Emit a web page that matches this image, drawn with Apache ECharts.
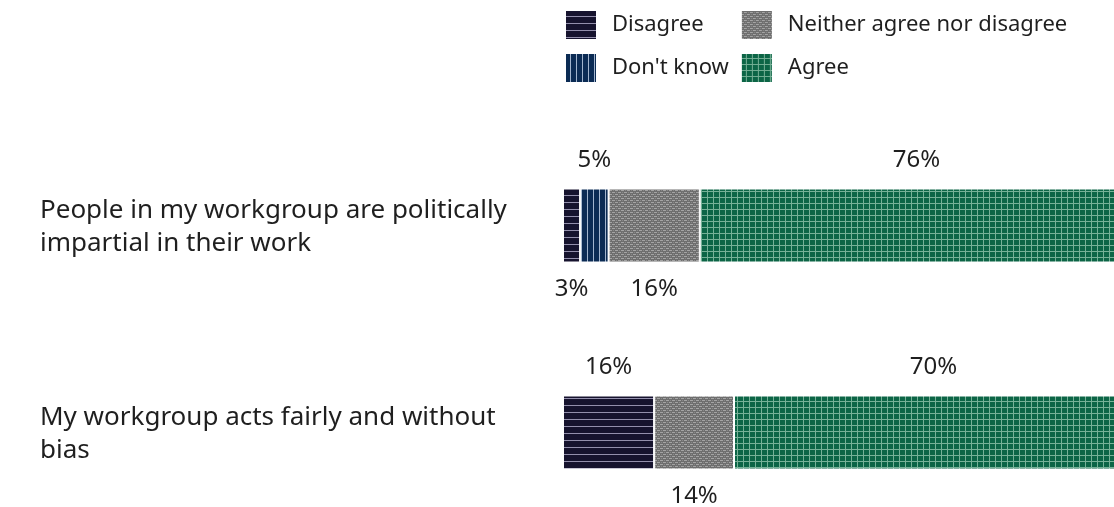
<!DOCTYPE html>
<html>
<head>
<meta charset="utf-8">
<script src="https://cdn.jsdelivr.net/npm/echarts@6/dist/echarts.min.js"></script>
<style>
  html, body { margin: 0; padding: 0; background: #fff; }
  #main { width: 1114px; height: 507px; }
</style>
</head>
<body>
<div id="main"></div>
<script>
// data
let categories = [
    'People in my workgroup are politically\nimpartial in their work',
    'My workgroup acts fairly and without\nbias'
];
let seriesNames = ['Disagree', "Don't know", 'Neither agree nor disagree', 'Agree'];
let disagree = [3, 16];
let dontKnow = [5, 0];
let neither = [16, 14];
let agree = [76, 70];

function tile(w, h, draw){
    let c = document.createElement('canvas');
    c.width = w;
    c.height = h;
    draw(c.getContext('2d'));
    return {image: c, repeat: 'repeat'};
}

let fills = [
    tile(6, 7, g => {
        g.fillStyle = '#16132e'; g.fillRect(0, 0, 6, 7);
        g.fillStyle = 'rgba(190,185,215,0.75)'; g.fillRect(0, 6, 6, 1);
    }),
    tile(6, 6, g => {
        g.fillStyle = '#0b2b54'; g.fillRect(0, 0, 6, 6);
        g.fillStyle = 'rgba(200,215,235,0.8)'; g.fillRect(5, 0, 1, 6);
    }),
    tile(6, 4, g => {
        g.fillStyle = '#6e6e6e'; g.fillRect(0, 0, 6, 4);
        g.fillStyle = '#a4a4a4';
        g.fillRect(0, 0, 3, 1); g.fillRect(3, 2, 3, 1);
        g.fillStyle = '#8a8a8a';
        g.fillRect(4, 0, 1, 1); g.fillRect(1, 2, 1, 1);
    }),
    tile(6, 6, g => {
        g.fillStyle = '#0c6546'; g.fillRect(0, 0, 6, 6);
        g.fillStyle = 'rgba(190,228,205,0.6)';
        g.fillRect(5, 0, 1, 6); g.fillRect(0, 5, 5, 1);
    })
];

let values = [disagree, dontKnow, neither, agree];

// labels alternate above / below, starting from the last segment (above)
function labelPos(si, ci){
    let shown = [];
    for (let k = 0; k < values.length; k++){
        if (values[k][ci] > 0) shown.push(k);
    }
    let idx = shown.indexOf(si);
    return (shown.length - 1 - idx) % 2 === 0 ? 'top' : 'bottom';
}

let series = seriesNames.map((name, si) => ({
    type: 'bar',
    name: name,
    stack: 'total',
    barWidth: 74,
    itemStyle: {color: fills[si], borderColor: '#fff', borderWidth: 1},
    data: values[si].map((v, ci) => ({
        value: v,
        label: {
            show: v > 0,
            position: labelPos(si, ci),
            distance: labelPos(si, ci) === 'top' ? 16 : 15
        }
    })),
    label: {
        formatter: '{c}%',
        fontSize: 24,
        color: '#1f1f1f',
        fontFamily: 'Noto Sans'
    }
}));

let option = {
    animation: false,
    legend: {
        orient: 'vertical',
        left: 564,
        top: 9,
        padding: 0,
        height: 80,
        itemWidth: 32,
        itemHeight: 30,
        itemGap: 11,
        icon: 'rect',
        data: seriesNames,
        textStyle: {
            fontSize: 22,
            color: '#1f1f1f',
            fontFamily: 'Noto Sans',
            padding: [0, 0, 0, 10]
        }
    },
    grid: {left: 563, width: 570, top: 122, height: 414, outerBoundsMode: 'none', containLabel: false},
    xAxis: {
        type: 'value',
        min: 0,
        max: 100,
        show: false
    },
    yAxis: {
        type: 'category',
        inverse: true,
        data: categories,
        axisLine: {show: false},
        axisTick: {show: false},
        axisLabel: {
            align: 'left',
            margin: 523,
            formatter: v => v.split('\n').map(s => '{t|' + s + '}').join('\n'),
            rich: {
                t: {
                    fontSize: 26,
                    lineHeight: 33,
                    padding: [4, 0, 0, 0],
                    color: '#1f1f1f',
                    fontFamily: 'Noto Sans'
                }
            }
        }
    },
    series: series
};

let chart = echarts.init(document.getElementById('main'));
chart.setOption(option);
</script>
</body>
</html>
